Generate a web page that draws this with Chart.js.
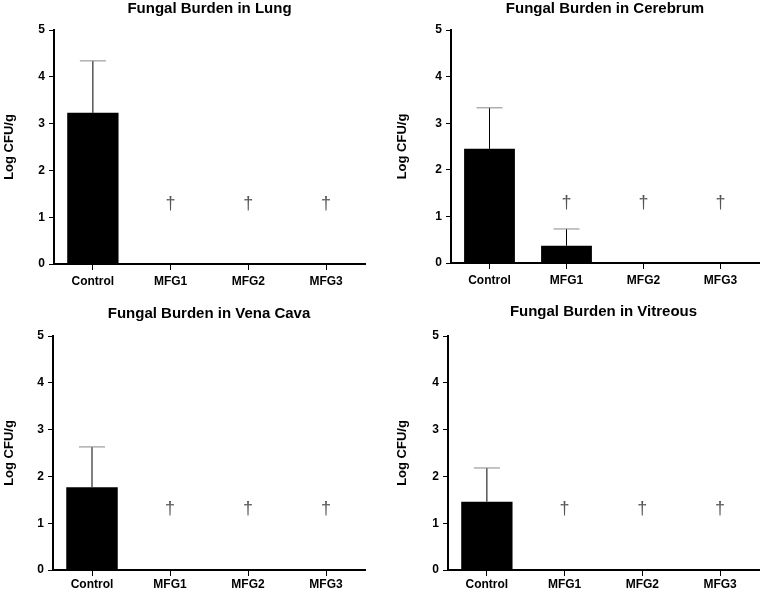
<!DOCTYPE html>
<html>
<head>
<meta charset="utf-8">
<script src="https://cdn.jsdelivr.net/npm/chart.js@4/dist/chart.umd.min.js"></script>
<style>
  body { margin: 0; background: #fff; }
  .panel { position: absolute; width: 381px; height: 296px; }
</style>
</head>
<body>
<div class="panel" style="left:0;top:0"><canvas id="lung" width="381" height="296"></canvas></div>
<div class="panel" style="left:381px;top:0"><canvas id="cerebrum" width="381" height="296"></canvas></div>
<div class="panel" style="left:0;top:296px"><canvas id="venaCava" width="381" height="296"></canvas></div>
<div class="panel" style="left:381px;top:296px"><canvas id="vitreous" width="381" height="296"></canvas></div>
<script>
const categories = ['Control', 'MFG1', 'MFG2', 'MFG3'];
const yTicks = [0, 1, 2, 3, 4, 5];

const lungMean = [3.23, 0, 0, 0];
const lungErr = [1.11, 0, 0, 0];
const lungDagger = [null, 1.28, 1.28, 1.28];

const cerebrumMean = [2.45, 0.37, 0, 0];
const cerebrumErr = [0.88, 0.36, 0, 0];
const cerebrumDagger = [null, 1.29, 1.29, 1.29];

const venaCavaMean = [1.77, 0, 0, 0];
const venaCavaErr = [0.86, 0, 0, 0];
const venaCavaDagger = [null, 1.3, 1.3, 1.3];

const vitreousMean = [1.46, 0, 0, 0];
const vitreousErr = [0.72, 0, 0, 0];
const vitreousDagger = [null, 1.3, 1.3, 1.3];

Chart.defaults.font.family = '"Liberation Sans", Arial, sans-serif';
Chart.defaults.color = '#000';

// upper-only error bars, Prism style
const errorBars = {
    id: 'errorBars',
    afterDatasetsDraw(chart, args, opts) {
        const ctx = chart.ctx;
        const y = chart.scales.y;
        const meta = chart.getDatasetMeta(0);
        const means = chart.data.datasets[0].data;
        ctx.save();
        opts.err.forEach((e, i) => {
            if (!e) return;
            const x = meta.data[i].x;
            const yBar = y.getPixelForValue(means[i]);
            const yTop = y.getPixelForValue(means[i] + e);
            ctx.strokeStyle = '#000';
            ctx.lineWidth = 1;
            ctx.beginPath();
            ctx.moveTo(x, yBar);
            ctx.lineTo(x, yTop);
            ctx.stroke();
            ctx.strokeStyle = '#888';
            ctx.beginPath();
            ctx.moveTo(x - 13, yTop);
            ctx.lineTo(x + 13, yTop);
            ctx.stroke();
        });
        // dagger marks for groups that did not survive
        ctx.fillStyle = '#555';
        ctx.font = '18px "Liberation Sans", Arial, sans-serif';
        ctx.textAlign = 'center';
        ctx.textBaseline = 'middle';
        opts.dagger.forEach((d, i) => {
            if (d == null) return;
            ctx.fillText('\u2020', meta.data[i].x, y.getPixelForValue(d));
        });
        ctx.restore();
    }
};

// title centred over the plot area
const areaTitle = {
    id: 'areaTitle',
    afterDraw(chart, args, opts) {
        const ctx = chart.ctx;
        const a = chart.chartArea;
        ctx.save();
        ctx.fillStyle = '#000';
        ctx.font = 'bold 15px "Liberation Sans", Arial, sans-serif';
        ctx.textAlign = 'center';
        ctx.textBaseline = 'middle';
        ctx.fillText(opts.text, (a.left + a.right) / 2, opts.y);
        ctx.restore();
    }
};

function makeChart(id, title, means, errs, daggers, box) {
    const H = 296, W = 381;
    return new Chart(document.getElementById(id), {
        type: 'bar',
        data: {
            labels: categories,
            datasets: [{
                data: means,
                backgroundColor: '#000',
                borderWidth: 0,
                barPercentage: 0.66,
                categoryPercentage: 1
            }]
        },
        options: {
            responsive: false,
            animation: false,
            layout: { padding: { top: box.top, right: W - box.right, left: 0, bottom: 0 } },
            plugins: {
                legend: { display: false },
                tooltip: { enabled: false },
                title: { display: false },
                errorBars: { err: errs, dagger: daggers },
                areaTitle: { text: title, y: box.titleY }
            },
            scales: {
                x: {
                    offset: true,
                    afterFit(s) { s.height = H - box.bottom; },
                    grid: { offset: false, drawOnChartArea: false, color: '#000', lineWidth: 1, tickLength: 6 },
                    border: { color: '#000', width: 2 },
                    ticks: { font: { size: 12, weight: 'bold' }, padding: box.xPad, maxRotation: 0 }
                },
                y: {
                    min: 0,
                    max: 5,
                    afterFit(s) { s.width = box.left; },
                    afterBuildTicks(s) { s.ticks = yTicks.map(v => ({ value: v })); },
                    grid: { drawOnChartArea: false, color: '#000', lineWidth: 1, tickLength: 5 },
                    border: { color: '#000', width: 2 },
                    ticks: { font: { size: 12, weight: 'bold' }, padding: 4 },
                    title: {
                        display: true,
                        text: 'Log CFU/g',
                        font: { size: 13, weight: 'bold' },
                        padding: { top: box.yTitlePad, bottom: 0 }
                    }
                }
            }
        },
        plugins: [errorBars, areaTitle]
    });
}

makeChart('lung', 'Fungal Burden in Lung', lungMean, lungErr, lungDagger,
    { left: 54, right: 365, top: 30, bottom: 264, titleY: 9, xPad: 4, yTitlePad: 2 });
makeChart('cerebrum', 'Fungal Burden in Cerebrum', cerebrumMean, cerebrumErr, cerebrumDagger,
    { left: 70, right: 378, top: 30, bottom: 263, titleY: 9, xPad: 4, yTitlePad: 14 });
makeChart('venaCava', 'Fungal Burden in Vena Cava', venaCavaMean, venaCavaErr, venaCavaDagger,
    { left: 53, right: 365, top: 40, bottom: 274, titleY: 18, xPad: 1, yTitlePad: 2 });
makeChart('vitreous', 'Fungal Burden in Vitreous', vitreousMean, vitreousErr, vitreousDagger,
    { left: 67, right: 378, top: 40, bottom: 274, titleY: 16, xPad: 1, yTitlePad: 14 });
</script>
</body>
</html>
